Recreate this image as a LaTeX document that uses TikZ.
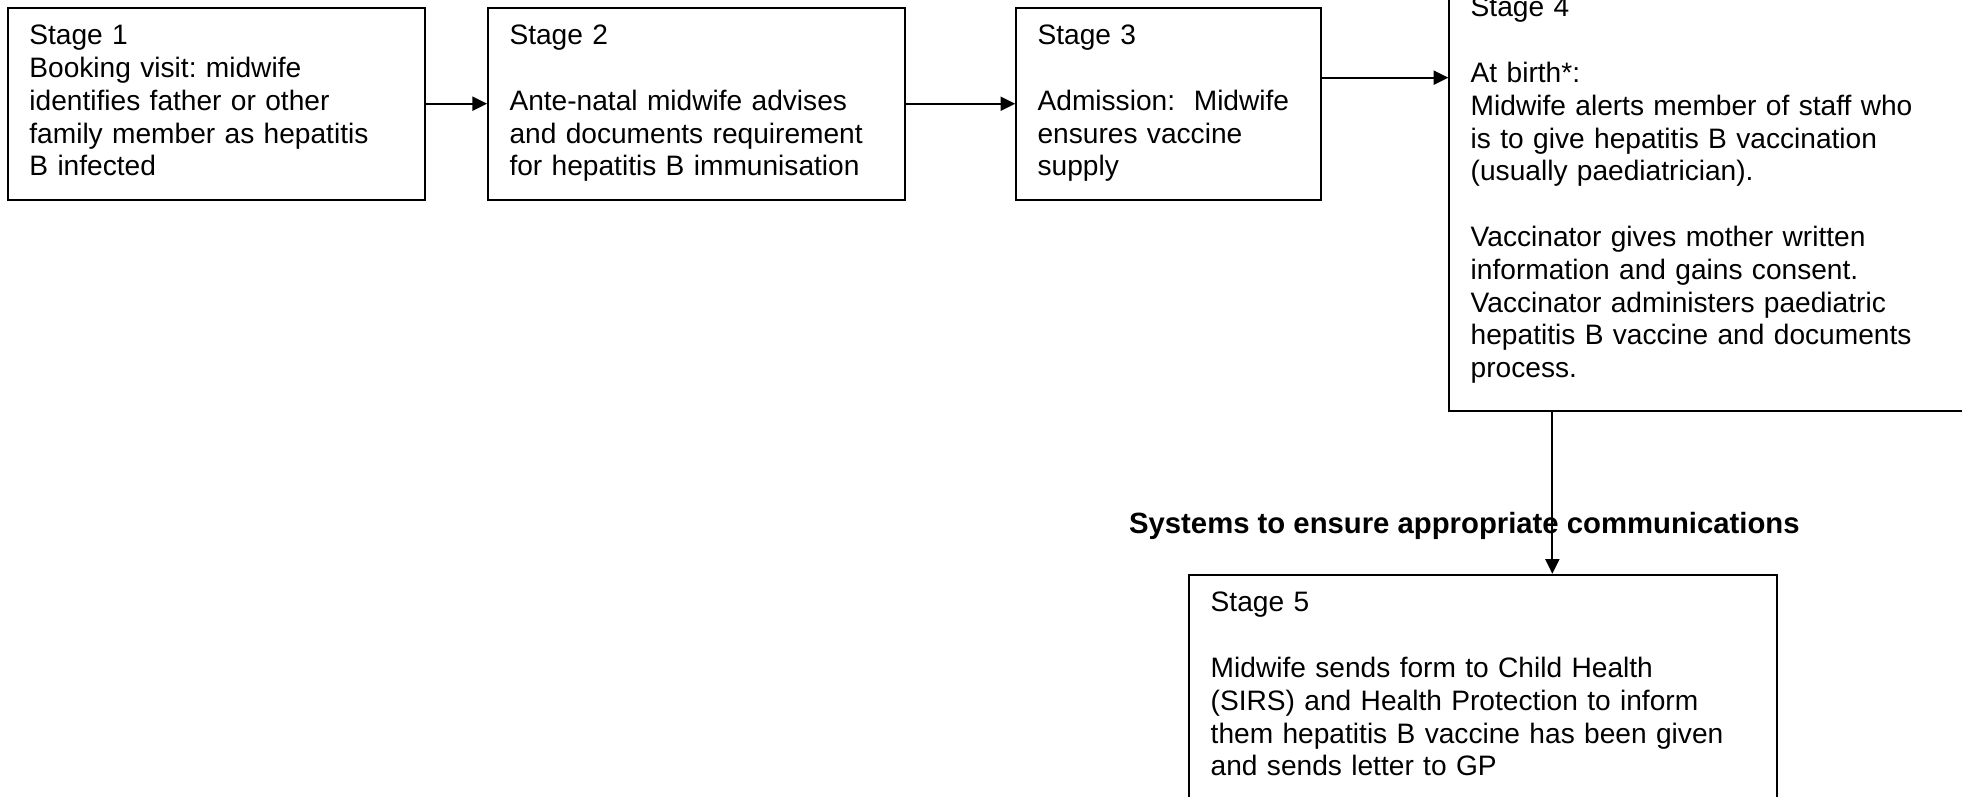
\documentclass[tikz,border=0pt]{standalone}
\usepackage{fontspec}
\setmainfont{Liberation Sans}
\usetikzlibrary{arrows.meta, positioning}
\frenchspacing

\begin{document}
\begin{tikzpicture}[
        node distance=0.9cm,
        stagebox/.style={rectangle, draw=black, line width=0.9pt, align=left, inner xsep=0.32cm, inner ysep=0.21cm, font=\fontsize{12}{14}\selectfont, execute at begin node=\strut, execute at end node=\strut},
        arr/.style={-{Triangle[length=0.22cm, width=0.21cm]}, line width=0.8pt}
    ]
    \useasboundingbox (0,0) rectangle (29.43,-11.955);

    \node[stagebox, text width=5.615cm, anchor=north west] (s1) at (0.105,-0.1) {Stage 1\\Booking visit: midwife\\identifies father or other\\family member as hepatitis\\B infected};
    \node[stagebox, text width=5.615cm, right=0.915cm of s1] (s2) {Stage 2\\[\baselineskip]Ante-natal midwife advises\\and documents requirement\\for hepatitis B immunisation};
    \node[stagebox, text width=3.935cm, right=1.635cm of s2] (s3) {Stage 3\\[\baselineskip]Admission:\ \ Midwife\\ensures vaccine\\supply};
    \node[stagebox, text width=7.265cm, minimum height=6.6cm, right=1.89cm of s3.north east, anchor=north west, yshift=0.555cm] (s4) {Stage 4\\[\baselineskip]At birth*:\\Midwife alerts member of staff who\\is to give hepatitis B vaccination\\(usually paediatrician).\\[\baselineskip]Vaccinator gives mother written\\information and gains consent.\\Vaccinator administers paediatric\\hepatitis B vaccine and documents\\process.};
    \node[stagebox, text width=8.18cm, below=2.43cm of s4.south west, anchor=north west, xshift=-3.9cm] (s5) {Stage 5\\[\baselineskip]Midwife sends form to Child Health\\(SIRS) and Health Protection to inform\\them hepatitis B vaccine has been given\\and sends letter to GP};

    \node[above=0.5cm of s5, xshift=-0.285cm, inner sep=0pt, font=\fontsize{12.5}{14}\selectfont\bfseries] (lab) {Systems to ensure appropriate communications};

    \coordinate (drop) at ([xshift=1.56cm]s4.south west);

    \draw[arr] (s1) -- (s2);
    \draw[arr] (s2) -- (s3);
    \draw[arr] ([yshift=-1.065cm]s3.north east) -- ([yshift=-1.065cm]s3.north east -| s4.west);
    \draw[arr] (drop) -- (drop |- s5.north);
\end{tikzpicture}
\end{document}
